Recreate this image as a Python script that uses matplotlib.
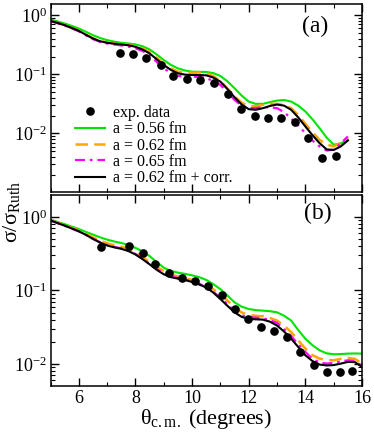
import numpy as np
import matplotlib
matplotlib.use("Agg")
import matplotlib.pyplot as plt
from matplotlib.ticker import LogLocator, MultipleLocator, NullFormatter

plt.rcParams['font.family'] = ['Liberation Serif', 'DejaVu Serif']
plt.rcParams['mathtext.fontset'] = 'custom'
plt.rcParams['mathtext.rm'] = 'Liberation Serif'
plt.rcParams['mathtext.it'] = 'Liberation Serif:italic'
plt.rcParams['mathtext.default'] = 'regular'

# ---- data, values are log10(sigma/sigma_Ruth) ----
# panel (a): experimental points
exp_a_theta = [7.45, 7.92, 8.39, 8.89, 9.32, 9.82, 10.29, 10.79, 11.27, 11.73,
               12.23, 12.68, 13.15, 13.62, 14.11, 14.58, 15.08]
exp_a_log = [-0.632, -0.649, -0.724, -0.836, -1.022, -1.085, -1.09, -1.147, -1.327, -1.593,
             -1.707, -1.741, -1.734, -1.814, -2.073, -2.412, -2.385]

# panel (b): experimental points
exp_b_theta = [6.80, 7.77, 8.26, 8.70, 9.18, 9.65, 10.11, 10.57, 11.05, 11.52,
               11.96, 12.44, 12.90, 13.35, 13.81, 14.29, 14.75, 15.22, 15.66]
exp_b_log = [-0.408, -0.395, -0.489, -0.637, -0.768, -0.830, -0.867, -0.934, -1.069, -1.257,
             -1.392, -1.491, -1.550, -1.639, -1.833, -2.012, -2.106, -2.106, -2.089]

# calculations, panel (a)
theta_a = [5.0, 5.25, 5.5, 5.75, 6.0, 6.25, 6.5, 6.75, 7.0, 7.25, 7.5, 7.75, 8.0, 8.25,
           8.5, 8.75, 9.0, 9.25, 9.5, 9.75, 10.0, 10.25, 10.5, 10.75, 11.0, 11.25, 11.5,
           11.75, 12.0, 12.25, 12.5, 12.75, 13.0, 13.25, 13.5, 13.75, 14.0, 14.25, 14.5,
           14.75, 15.0, 15.25, 15.5]
a056_a = [-0.073, -0.105, -0.14, -0.18, -0.225, -0.28, -0.337, -0.385, -0.421, -0.447,
          -0.466, -0.478, -0.494, -0.525, -0.579, -0.665, -0.758, -0.84, -0.899, -0.935,
          -0.955, -0.958, -0.96, -0.98, -1.028, -1.12, -1.236, -1.36, -1.461, -1.50, -1.50,
          -1.47, -1.444, -1.435, -1.461, -1.53, -1.629, -1.76, -1.91, -2.07, -2.19, -2.17,
          -2.107]
a062_a = [-0.096, -0.13, -0.169, -0.215, -0.264, -0.33, -0.39, -0.435, -0.46, -0.475,
          -0.487, -0.50, -0.525, -0.565, -0.618, -0.72, -0.815, -0.90, -0.955, -0.97,
          -0.972, -0.97, -0.975, -1.03, -1.11, -1.24, -1.375, -1.48, -1.534, -1.54, -1.517,
          -1.50, -1.50, -1.52, -1.573, -1.69, -1.837, -1.98, -2.107, -2.19, -2.219, -2.16,
          -2.079]
a065_a = [-0.10, -0.135, -0.175, -0.22, -0.272, -0.34, -0.405, -0.45, -0.478, -0.495,
          -0.51, -0.53, -0.56, -0.605, -0.674, -0.79, -0.899, -0.98, -1.025, -1.038,
          -1.039, -1.045, -1.065, -1.11, -1.18, -1.30, -1.433, -1.53, -1.573, -1.57, -1.556,
          -1.56, -1.573, -1.64, -1.75, -1.87, -1.994, -2.12, -2.219, -2.29, -2.275, -2.17,
          -2.051]
corr_a = [-0.096, -0.13, -0.169, -0.215, -0.264, -0.33, -0.393, -0.44, -0.466, -0.482,
          -0.494, -0.508, -0.534, -0.58, -0.646, -0.745, -0.843, -0.925, -0.983, -1.005,
          -1.011, -1.012, -1.017, -1.055, -1.124, -1.25, -1.388, -1.51, -1.59, -1.60, -1.573,
          -1.535, -1.511, -1.53, -1.601, -1.73, -1.882, -2.03, -2.163, -2.27, -2.28, -2.22,
          -2.12]

# calculations, panel (b)
theta_b = [5.0, 5.25, 5.5, 5.75, 6.0, 6.25, 6.5, 6.75, 7.0, 7.25, 7.5, 7.75, 8.0, 8.25,
           8.5, 8.75, 9.0, 9.25, 9.5, 9.75, 10.0, 10.25, 10.5, 10.75, 11.0, 11.25, 11.5,
           11.75, 12.0, 12.25, 12.5, 12.75, 13.0, 13.25, 13.5, 13.75, 14.0, 14.25, 14.5,
           14.75, 15.0, 15.25, 15.5, 15.75, 16.0]
a056_b = [-0.04, -0.07, -0.10, -0.133, -0.166, -0.205, -0.242, -0.278, -0.31, -0.335,
          -0.355, -0.383, -0.422, -0.47, -0.534, -0.615, -0.691, -0.735, -0.759, -0.775,
          -0.795, -0.82, -0.857, -0.915, -0.983, -1.07, -1.163, -1.22, -1.253, -1.268,
          -1.275, -1.283, -1.298, -1.345, -1.41, -1.54, -1.657, -1.745, -1.814, -1.855,
          -1.868, -1.865, -1.859, -1.857, -1.859]
a062_b = [-0.045, -0.08, -0.115, -0.15, -0.185, -0.23, -0.28, -0.325, -0.36, -0.385,
          -0.405, -0.435, -0.48, -0.545, -0.615, -0.68, -0.736, -0.785, -0.81, -0.83,
          -0.857, -0.89, -0.93, -0.985, -1.051, -1.14, -1.23, -1.30, -1.334, -1.345,
          -1.352, -1.375, -1.41, -1.48, -1.567, -1.68, -1.792, -1.88, -1.927, -1.945,
          -1.949, -1.93, -1.918, -1.93, -1.994]
a065_b = [-0.05, -0.086, -0.122, -0.16, -0.198, -0.245, -0.298, -0.345, -0.383, -0.408,
          -0.428, -0.458, -0.505, -0.568, -0.638, -0.71, -0.77, -0.81, -0.832, -0.852,
          -0.877, -0.91, -0.95, -1.02, -1.10, -1.19, -1.28, -1.34, -1.365, -1.37,
          -1.378, -1.405, -1.442, -1.53, -1.62, -1.735, -1.837, -1.93, -1.981, -1.995,
          -1.985, -1.965, -1.95, -1.96, -2.026]
corr_b = [-0.049, -0.085, -0.12, -0.158, -0.197, -0.245, -0.30, -0.35, -0.39, -0.415,
          -0.435, -0.465, -0.512, -0.575, -0.646, -0.72, -0.781, -0.82, -0.84, -0.86,
          -0.885, -0.92, -0.96, -1.03, -1.118, -1.21, -1.298, -1.36, -1.388, -1.393,
          -1.397, -1.425, -1.478, -1.56, -1.657, -1.77, -1.882, -1.96, -2.008, -2.02,
          -2.015, -1.995, -1.972, -1.975, -2.039]

labels = ["exp. data", "a = 0.56 fm", "a = 0.62 fm", "a = 0.65 fm", "a = 0.62 fm + corr."]

W, H = 374, 433
fig = plt.figure(figsize=(W / 100, H / 100), dpi=100)
ax_a = fig.add_axes([50.5 / W, 1 - 192 / H, 311.5 / W, 188 / H])
ax_b = fig.add_axes([50.5 / W, 1 - 385.5 / H, 311.5 / W, 190.5 / H])


def draw(ax, th_e, y_e, th, s056, s062, s065, scorr):
    ax.plot(th_e, 10 ** np.array(y_e), 'o', color='black', ms=5.2, label=labels[0], zorder=5)
    ax.plot(th, 10 ** np.array(s056), color='#00e400', lw=1.5, label=labels[1])
    ax.plot(th, 10 ** np.array(s062), color='#ffa500', lw=1.8, dashes=(5, 2.5), label=labels[2])
    ax.plot(th, 10 ** np.array(s065), color='#ff00ff', lw=1.6, dashes=(4.5, 2.2, 1.2, 2.2), label=labels[3])
    ax.plot(th, 10 ** np.array(scorr), color='black', lw=1.5, label=labels[4])
    ax.set_yscale('log')
    ax.set_xlim(5, 16)
    ax.xaxis.set_major_locator(MultipleLocator(2))
    ax.xaxis.set_minor_locator(MultipleLocator(1))
    ax.yaxis.set_major_locator(LogLocator(base=10, numticks=10))
    ax.yaxis.set_minor_locator(LogLocator(base=10, subs=np.arange(2, 10), numticks=20))
    ax.yaxis.set_minor_formatter(NullFormatter())
    ax.tick_params(which='both', direction='in', top=True, right=True, labelsize=13)
    ax.tick_params(which='major', length=5.5, width=1)
    ax.tick_params(which='minor', length=3, width=0.8)
    ax.tick_params(axis='y', pad=2.5)
    ax.tick_params(axis='x', pad=3)
    for s in ax.spines.values():
        s.set_linewidth(1.1)


draw(ax_a, exp_a_theta, exp_a_log, theta_a, a056_a, a062_a, a065_a, corr_a)
draw(ax_b, exp_b_theta, exp_b_log, theta_b, a056_b, a062_b, a065_b, corr_b)

ax_a.set_ylim(1.02e-3, 1.55)
ax_b.set_ylim(5.1e-3, 1.98)
ax_a.tick_params(labelbottom=False)

ax_a.text(0.893, 0.883, "(a)", transform=ax_a.transAxes, fontsize=17, ha='right', va='center')
ax_b.text(0.903, 0.905, "(b)", transform=ax_b.transAxes, fontsize=17, ha='right', va='center')

ax_a.legend(loc='lower left', bbox_to_anchor=(0.079, 0.03), frameon=False, fontsize=11.5,
            handlelength=1.85, handletextpad=0.55, labelspacing=0.02, borderaxespad=0,
            borderpad=0)

ax_b.set_xlabel("θ$_{\\rm c.m.}$ (degrees)", fontsize=16, labelpad=0)
fig.text(12 / W, 1 - 212 / H, "σ/σ$_{\\rm Ruth}$", rotation=90, fontsize=16,
         ha='center', va='center')

fig.savefig("out.png", dpi=100)
